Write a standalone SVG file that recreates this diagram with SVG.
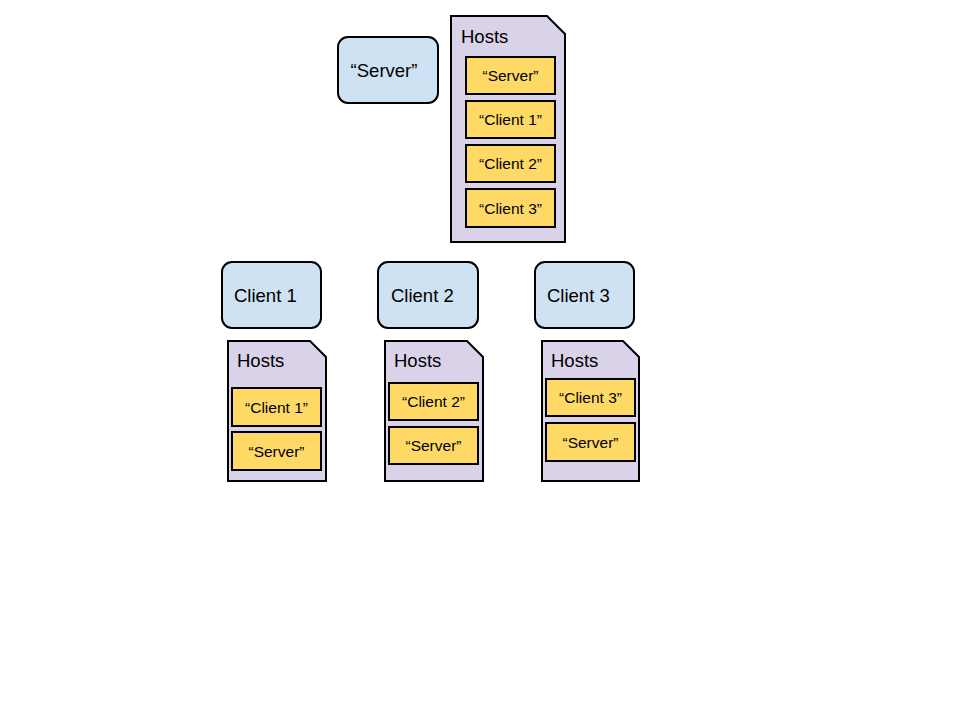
<svg xmlns="http://www.w3.org/2000/svg" width="960" height="720" viewBox="0 0 960 720">
<style>
.node{fill:#cfe2f3;stroke:#000;stroke-width:2}
.doc{fill:#d9d2e9;stroke:#000;stroke-width:2}
.entry{fill:#ffd966;stroke:#000;stroke-width:2}
text{font-family:"Liberation Sans",Arial,sans-serif;fill:#000}
.lbl{font-size:18.5px}
.small{font-size:15.5px;text-anchor:middle}
.mid{text-anchor:middle}
</style>
<rect width="960" height="720" fill="#fff"/>
<g id="server">
<rect class="node" x="338" y="37" width="100" height="66" rx="10"/>
<text class="lbl mid" x="384" y="77">“Server”</text>
</g>
<g id="server-hosts">
<path class="doc" d="M451 16 H547 L565 34 V242 H451 Z"/>
<text class="lbl" x="461" y="43">Hosts</text>
<rect class="entry" x="466" y="57" width="89" height="37"/>
<text class="small" x="510.5" y="81">“Server”</text>
<rect class="entry" x="466" y="101" width="89" height="37"/>
<text class="small" x="510.5" y="125">“Client 1”</text>
<rect class="entry" x="466" y="145" width="89" height="37"/>
<text class="small" x="510.5" y="169">“Client 2”</text>
<rect class="entry" x="466" y="189" width="89" height="38"/>
<text class="small" x="510.5" y="213.5">“Client 3”</text>
</g>
<g id="client1">
<rect class="node" x="222" y="262" width="99" height="66" rx="10"/>
<text class="lbl" x="234" y="302">Client 1</text>
</g>
<g id="client1-hosts">
<path class="doc" d="M228 341 H310 L326 357 V481 H228 Z"/>
<text class="lbl" x="237" y="367">Hosts</text>
<rect class="entry" x="232" y="388" width="89" height="38"/>
<text class="small" x="276.5" y="412.5">“Client 1”</text>
<rect class="entry" x="232" y="432" width="89" height="38"/>
<text class="small" x="276.5" y="456.5">“Server”</text>
</g>
<g id="client2">
<rect class="node" x="378" y="262" width="100" height="66" rx="10"/>
<text class="lbl" x="391" y="302">Client 2</text>
</g>
<g id="client2-hosts">
<path class="doc" d="M385 341 H467 L483 357 V481 H385 Z"/>
<text class="lbl" x="394" y="367">Hosts</text>
<rect class="entry" x="389" y="383" width="89" height="37"/>
<text class="small" x="433.5" y="407">“Client 2”</text>
<rect class="entry" x="389" y="427" width="89" height="37"/>
<text class="small" x="433.5" y="451">“Server”</text>
</g>
<g id="client3">
<rect class="node" x="535" y="262" width="99" height="66" rx="10"/>
<text class="lbl" x="547" y="302">Client 3</text>
</g>
<g id="client3-hosts">
<path class="doc" d="M542 341 H623 L639 357 V481 H542 Z"/>
<text class="lbl" x="551" y="367">Hosts</text>
<rect class="entry" x="546" y="379" width="89" height="37"/>
<text class="small" x="590.5" y="403">“Client 3”</text>
<rect class="entry" x="546" y="423" width="89" height="38"/>
<text class="small" x="590.5" y="447.5">“Server”</text>
</g>
<g id="connectors"></g>
</svg>
